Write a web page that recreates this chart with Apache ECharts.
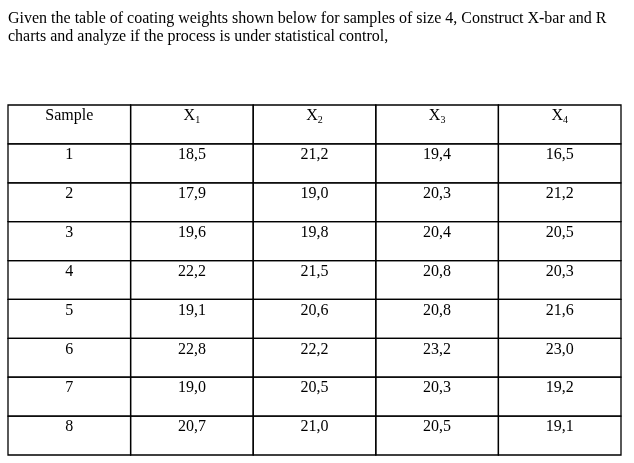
<!DOCTYPE html>
<html><head><meta charset="utf-8">
<script src="https://cdn.jsdelivr.net/npm/echarts@6/dist/echarts.min.js"></script>
<style>html,body{margin:0;padding:0;background:#fff}#c{width:634px;height:463px}</style>
</head><body><div id="c"></div>
<script>
const titleLines = ["Given the table of coating weights shown below for samples of size 4, Construct X-bar and R", "charts and analyze if the process is under statistical control,"];
const headers = ["Sample", "X{s|1}", "X{s|2}", "X{s|3}", "X{s|4}"];
const samples = ["1","2","3","4","5","6","7","8"];
const x1 = ["18,5","17,9","19,6","22,2","19,1","22,8","19,0","20,7"];
const x2 = ["21,2","19,0","19,8","21,5","20,6","22,2","20,5","21,0"];
const x3 = ["19,4","20,3","20,4","20,8","20,8","23,2","20,3","20,5"];
const x4 = ["16,5","21,2","20,5","20,3","21,6","23,0","19,2","19,1"];

const cells = [];
headers.forEach((h,c)=>cells.push([c,0,h]));
const cols=[samples,x1,x2,x3,x4];
cols.forEach((arr,c)=>arr.forEach((v,r)=>cells.push([c,r+1,v])));

const chart = echarts.init(document.getElementById('c'));
chart.setOption({
  animation:false,
  title:{text:titleLines.join('\n'),left:3,top:5,textStyle:{fontFamily:'Liberation Serif',fontSize:16,fontWeight:'normal',color:'#000',lineHeight:18}},
  grid:{left:8,right:13,top:105,bottom:8},
  xAxis:{type:'value',min:0,max:5,show:false},
  yAxis:{type:'value',min:0,max:9,inverse:true,show:false},
  series:[{type:'custom',data:cells,renderItem:function(params,api){
    const c=api.value(0),r=api.value(1);
    const p0=api.coord([c,r]),p1=api.coord([c+1,r+1]);
    const t=cells[params.dataIndex][2];
    return {type:'group',children:[
      {type:'rect',shape:{x:p0[0],y:p0[1],width:p1[0]-p0[0],height:p1[1]-p0[1]},style:{fill:'none',stroke:'#000',lineWidth:1.3}},
      {type:'text',x:(p0[0]+p1[0])/2,y:p0[1]+11,style:{text:t,align:'center',verticalAlign:'middle',fontFamily:'Liberation Serif',fontSize:16,fill:'#000',rich:{s:{fontSize:10,verticalAlign:'bottom',padding:[8,0,0,0],fontFamily:'Liberation Serif',fill:'#000'}}}}
    ]};
  }}]
});
</script></body></html>
